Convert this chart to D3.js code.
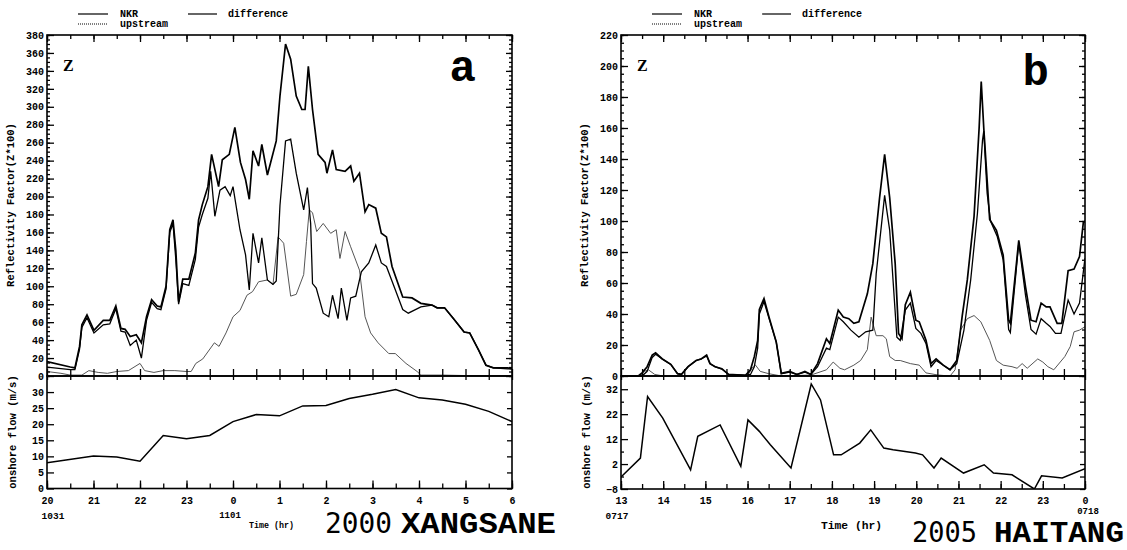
<!DOCTYPE html>
<html>
<head>
<meta charset="utf-8">
<script src="https://cdn.jsdelivr.net/npm/d3@7"></script>
<style>
  body { margin: 0; background: #fff; }
  svg text { font-family: "Liberation Mono", "DejaVu Sans Mono", monospace; font-weight: bold; fill: #000; }
</style>
</head>
<body>
<script>
// ---- data (t = hours since first tick) ----
const hoursA = ["20","21","22","23","0","1","2","3","4","5","6"];
const hoursB = ["13","14","15","16","17","18","19","20","21","22","23","0"];

const zTicksA = [0,20,40,60,80,100,120,140,160,180,200,220,240,260,280,300,320,340,360,380];
const zTicksB = [0,20,40,60,80,100,120,140,160,180,200,220];
const flowTicksA = [0,5,10,15,20,25,30];
const flowTicksB = [-8,2,12,22,32];

const nkrA = [[0,16],[0.5,10],[0.6,9],[0.7,33],[0.75,57],[0.86,68],[1.01,51],[1.21,62],[1.35,62],[1.48,78],[1.59,53],[1.68,52],[1.79,44],[1.92,46],[2.03,37],[2.14,66],[2.25,85],[2.37,78],[2.45,77],[2.56,100],[2.64,163],[2.71,174],[2.77,140],[2.83,83],[2.92,108],[3.05,108],[3.19,137],[3.26,174],[3.34,191],[3.46,211],[3.54,247],[3.69,211],[3.77,241],[3.92,247],[4.04,277],[4.16,238],[4.27,219],[4.35,197],[4.43,251],[4.55,234],[4.62,258],[4.74,224],[4.93,262],[5.01,312],[5.13,370],[5.24,353],[5.36,312],[5.48,297],[5.55,297],[5.62,345],[5.71,297],[5.83,247],[5.98,238],[6.02,226],[6.14,252],[6.22,230],[6.41,228],[6.53,234],[6.6,217],[6.72,226],[6.84,183],[6.92,191],[7.07,187],[7.19,159],[7.3,155],[7.42,122],[7.65,88],[7.85,87],[8.04,81],[8.28,79],[8.39,76],[8.55,76],[8.74,64],[8.97,49],[9.09,48],[9.28,29],[9.44,12],[9.6,9],[9.91,9],[10,8]];
const diffA = [[0,10],[0.5,7],[0.6,7],[0.7,30],[0.75,54],[0.86,65],[1.01,48],[1.21,57],[1.35,58],[1.48,75],[1.59,50],[1.68,49],[1.79,34],[1.92,40],[2.03,20],[2.14,62],[2.25,82],[2.37,75],[2.45,74],[2.56,97],[2.64,160],[2.71,170],[2.77,130],[2.83,80],[2.92,103],[3.05,101],[3.19,130],[3.26,166],[3.34,180],[3.46,198],[3.52,228],[3.61,178],[3.72,207],[3.83,211],[3.94,201],[4.0,211],[4.15,163],[4.27,135],[4.35,96],[4.43,159],[4.55,126],[4.62,154],[4.74,107],[4.86,102],[4.93,106],[5.01,190],[5.13,262],[5.24,264],[5.36,226],[5.52,185],[5.6,210],[5.67,170],[5.71,103],[5.79,98],[5.94,70],[6.06,66],[6.14,90],[6.26,64],[6.33,98],[6.45,62],[6.53,87],[6.64,89],[6.76,116],[6.92,126],[7.07,146],[7.19,126],[7.3,122],[7.49,96],[7.65,74],[7.77,70],[8.04,77],[8.28,79],[8.39,76],[8.55,76],[8.74,64],[8.97,49],[9.09,48],[9.28,29],[9.44,12],[9.6,9],[9.91,8],[10,8]];
const upA = [[0,5],[0.3,3],[0.5,1],[0.75,1],[0.9,6],[1.1,4],[1.3,3],[1.5,5],[1.75,6],[2.0,14],[2.1,6],[2.3,4],[2.5,6],[2.75,6],[3.0,5],[3.1,5],[3.2,14],[3.35,19],[3.6,37],[3.7,33],[3.85,48],[4.0,66],[4.15,73],[4.3,90],[4.42,94],[4.55,105],[4.74,107],[4.86,102],[4.97,155],[5.09,148],[5.24,89],[5.36,91],[5.52,113],[5.58,150],[5.64,185],[5.71,182],[5.8,161],[5.94,170],[6.1,159],[6.22,163],[6.3,131],[6.41,161],[6.53,144],[6.72,118],[6.84,66],[6.96,48],[7.12,37],[7.35,25],[7.49,25],[7.72,14],[7.96,5],[8.04,1],[8.5,1],[9,0.5],[10,0.5]];
const flowA = [[0,8.0],[1,10.1],[1.5,9.8],[2,8.5],[2.5,16.5],[3,15.5],[3.5,16.5],[4,20.8],[4.5,23],[5,22.6],[5.5,25.7],[6,25.8],[6.5,28],[7,29.3],[7.5,30.8],[8,28.2],[8.5,27.5],[9,26.2],[9.5,24],[10,20.8]];

const nkrB = [[0,0],[0.41,0],[0.5,2],[0.62,6],[0.74,13.5],[0.82,15],[0.98,11],[1.18,7.5],[1.34,1.5],[1.43,1],[1.59,6],[1.78,10],[1.9,11],[2.03,13.5],[2.11,8],[2.23,6],[2.39,4.7],[2.55,1],[2.95,0.5],[3.07,4],[3.16,12.5],[3.24,23],[3.28,43],[3.39,50],[3.51,38],[3.68,22],[3.8,1.7],[4.0,3],[4.17,1],[4.36,3],[4.5,1],[4.66,8],[4.87,24],[4.95,21],[5.15,42.5],[5.27,38],[5.4,37],[5.52,34],[5.64,35],[5.84,53],[5.97,72.5],[6.13,115],[6.25,143],[6.37,115],[6.5,72.5],[6.58,27.5],[6.66,24],[6.74,46],[6.86,54],[6.99,36],[7.07,35],[7.23,23],[7.35,8],[7.47,11],[7.64,7],[7.8,4],[7.96,10],[8.09,39],[8.21,62],[8.37,103],[8.49,160],[8.54,190],[8.6,160],[8.74,101],[8.9,94],[9.06,78],[9.19,36],[9.23,34],[9.43,87.5],[9.59,57.5],[9.72,36],[9.84,35],[9.96,47],[10.08,44.6],[10.17,44.6],[10.34,34],[10.45,34],[10.6,68],[10.74,69],[10.87,77],[10.96,99],[11,100]];
const diffB = [[0,0],[0.41,0],[0.5,0],[0.62,3],[0.74,12],[0.82,14],[0.98,11],[1.18,7.5],[1.34,1.5],[1.43,1],[1.59,6],[1.78,10],[1.9,11],[2.03,13],[2.11,8],[2.23,6],[2.39,4.5],[2.55,1],[2.95,0.5],[3.07,1],[3.16,6],[3.24,18],[3.28,40],[3.39,48],[3.51,37],[3.68,22],[3.8,1.5],[4.0,2.5],[4.17,1],[4.36,2.5],[4.5,1],[4.66,6],[4.87,18],[4.95,17],[5.15,38],[5.27,35],[5.45,29.6],[5.64,25],[5.8,28.5],[5.97,29.6],[6.05,66],[6.25,116.5],[6.37,94],[6.54,25],[6.62,23],[6.74,42.5],[6.86,47],[6.99,30.7],[7.11,27.5],[7.23,21],[7.35,6],[7.47,10],[7.8,4],[7.96,8],[8.13,29.6],[8.29,62],[8.45,105],[8.57,152],[8.6,158],[8.68,118],[8.76,100],[8.92,90],[9.06,75],[9.19,30],[9.23,28],[9.43,86],[9.59,52],[9.72,30],[9.84,27],[9.96,37],[10.08,34],[10.17,32],[10.3,27.5],[10.43,27.5],[10.6,49],[10.74,40],[10.87,47],[11,76]];
const upB = [[0,0],[0.45,0],[0.55,3],[0.65,4],[0.8,1],[1.0,0],[3.0,0],[3.1,5],[3.19,7],[3.3,3],[3.5,1.5],[3.8,0],[4.5,0.6],[4.87,4],[5.03,9],[5.19,5],[5.3,4],[5.52,7],[5.68,10],[5.84,17],[5.93,38],[6.05,26],[6.21,26],[6.29,24],[6.37,12.5],[6.5,10],[6.62,10],[6.86,8],[7.07,7],[7.23,2],[7.52,0.6],[7.8,0],[7.92,4],[8.05,29.6],[8.21,37],[8.37,39],[8.53,35],[8.74,23],[8.9,10],[9.06,7],[9.27,6],[9.39,5],[9.51,8],[9.63,5],[9.88,11],[10.0,9],[10.12,6],[10.26,4],[10.52,12.5],[10.65,19],[10.74,28.5],[10.87,29.6],[11,31.8]];
const flowB = [[0,-3.2],[0.46,4.4],[0.63,29.1],[0.99,20.4],[1.65,-0.3],[1.82,13.1],[2.35,17.7],[2.84,1.1],[3.01,19.7],[3.28,15.1],[3.54,9.7],[4.03,0.4],[4.51,34.1],[4.73,27.7],[5.04,5.7],[5.22,5.7],[5.66,10.4],[5.92,15.7],[6.23,8.4],[6.45,7.7],[6.98,6.4],[7.15,5.7],[7.42,0.4],[7.59,4.4],[8.12,-1.6],[8.61,1.7],[8.83,-1.6],[9.27,-2.3],[9.8,-8],[9.97,-2.7],[10.46,-3.6],[11,0.1]];

const legendNames = ["NKR", "difference", "upstream"];

const svg = d3.select("body").append("svg").attr("width", 1127).attr("height", 550);

const zTop = 35, zBot = 376;

function drawPanel(p) {
    const n = p.hours.length - 1;
    const x = d3.scaleLinear().domain([0, n]).range([p.left, p.right]);
    const yZ = d3.scaleLinear().domain([0, p.zMax]).range([zBot, zTop]);
    const yF = d3.scaleLinear().domain(p.flowDomain).range([p.flowBottom, zBot]);
    const halves = d3.range(0, n + 0.01, 0.5);
    const whole = d3.range(0, n + 1);
    const g = svg.append("g");

    const clipId = "clip" + p.id;
    g.append("clipPath").attr("id", clipId).append("rect")
        .attr("x", p.left).attr("y", zTop).attr("width", p.right - p.left).attr("height", p.flowBottom - zTop);

    // curves
    const lineZ = d3.line().x(d => x(d[0])).y(d => yZ(d[1]));
    const lineF = d3.line().x(d => x(d[0])).y(d => yF(d[1]));
    const plot = g.append("g").attr("clip-path", "url(#" + clipId + ")");
    plot.append("path").datum(p.up).attr("d", lineZ).attr("fill", "none")
        .attr("stroke", "#555").attr("stroke-width", 1);
    plot.append("path").datum(p.diff).attr("d", lineZ).attr("fill", "none")
        .attr("stroke", "#000").attr("stroke-width", 1.3);
    plot.append("path").datum(p.nkr).attr("d", lineZ).attr("fill", "none")
        .attr("stroke", "#000").attr("stroke-width", 1.7);
    plot.append("path").datum(p.flow).attr("d", lineF).attr("fill", "none")
        .attr("stroke", "#000").attr("stroke-width", 1.5);

    // axes
    const clean = sel => { sel.select(".domain").remove(); sel.selectAll("line").attr("stroke", "#000").attr("stroke-width", 1.3); };
    const tickFont = sel => sel.selectAll("text").style("font-family", "'Liberation Mono', monospace")
        .style("font-weight", "bold").style("font-size", "10px");

    // left Z
    g.append("g").attr("transform", `translate(${p.left},0)`)
        .call(d3.axisLeft(yZ).tickValues(d3.range(0, p.zMax + 0.1, 5)).tickSize(-3).tickFormat(""))
        .call(clean);
    g.append("g").attr("transform", `translate(${p.left},0)`)
        .call(d3.axisLeft(yZ).tickValues(p.zTicks).tickSize(-7).tickPadding(3).tickFormat(d3.format("d")))
        .call(clean).call(tickFont);
    // right Z
    g.append("g").attr("transform", `translate(${p.right},0)`)
        .call(d3.axisRight(yZ).tickValues(d3.range(0, p.zMax + 0.1, 5)).tickSize(-3).tickFormat(""))
        .call(clean);
    g.append("g").attr("transform", `translate(${p.right},0)`)
        .call(d3.axisRight(yZ).tickValues(p.zTicks).tickSize(-6).tickFormat(""))
        .call(clean);
    // left / right flow
    g.append("g").attr("transform", `translate(${p.left},0)`)
        .call(d3.axisLeft(yF).tickValues(p.flowMinor).tickSize(-3).tickFormat(""))
        .call(clean);
    g.append("g").attr("transform", `translate(${p.left},0)`)
        .call(d3.axisLeft(yF).tickValues(p.flowTicks).tickSize(-7).tickPadding(3).tickFormat(d3.format("d")))
        .call(clean).call(tickFont);
    g.append("g").attr("transform", `translate(${p.right},0)`)
        .call(d3.axisRight(yF).tickValues(p.flowTicks.concat(p.flowMinor)).tickSize(-5).tickFormat(""))
        .call(clean);

    // top axis
    g.append("g").attr("transform", `translate(0,${zTop})`)
        .call(d3.axisTop(x).tickValues(halves).tickSize(-4).tickFormat(""))
        .call(clean);
    g.append("g").attr("transform", `translate(0,${zTop})`)
        .call(d3.axisTop(x).tickValues(whole).tickSize(-7).tickFormat(""))
        .call(clean);
    // panel divider
    g.append("g").attr("transform", `translate(0,${zBot})`)
        .call(d3.axisBottom(x).tickValues(halves).tickSize(-7).tickFormat(""))
        .call(clean);
    g.append("g").attr("transform", `translate(0,${zBot})`)
        .call(d3.axisTop(x).tickValues(halves).tickSize(-4).tickFormat(""))
        .call(clean);
    // bottom axis
    g.append("g").attr("transform", `translate(0,${p.flowBottom})`)
        .call(d3.axisBottom(x).tickValues(halves).tickSize(-5).tickFormat(""))
        .call(clean);
    g.append("g").attr("transform", `translate(0,${p.flowBottom})`)
        .call(d3.axisBottom(x).tickValues(whole).tickSize(-8).tickPadding(8).tickFormat(i => p.hours[i]))
        .call(clean).call(tickFont);

    // frames
    g.append("rect").attr("x", p.left).attr("y", zTop).attr("width", p.right - p.left).attr("height", zBot - zTop)
        .attr("fill", "none").attr("stroke", "#000").attr("stroke-width", 1.6);
    g.append("rect").attr("x", p.left).attr("y", zBot).attr("width", p.right - p.left).attr("height", p.flowBottom - zBot)
        .attr("fill", "none").attr("stroke", "#000").attr("stroke-width", 1.6);

    // legend
    const lx = p.left + 31;
    const leg = g.append("g");
    leg.append("line").attr("x1", lx).attr("x2", lx + 30).attr("y1", 14).attr("y2", 14)
        .attr("stroke", "#000").attr("stroke-width", 1.2);
    leg.append("line").attr("x1", lx + 110).attr("x2", lx + 139).attr("y1", 14).attr("y2", 14)
        .attr("stroke", "#000").attr("stroke-width", 1.2);
    leg.append("line").attr("x1", lx).attr("x2", lx + 30).attr("y1", 24).attr("y2", 24)
        .attr("stroke", "#000").attr("stroke-width", 1).attr("stroke-dasharray", "1,1");
    leg.append("text").attr("x", lx + 42).attr("y", 17).style("font-size", "10px").text(legendNames[0]);
    leg.append("text").attr("x", lx + 150).attr("y", 17).style("font-size", "10px").text(legendNames[1]);
    leg.append("text").attr("x", lx + 42).attr("y", 27).style("font-size", "10px").text(legendNames[2]);

    // in-panel labels
    g.append("text").attr("x", p.left + 16).attr("y", 71)
        .style("font-family", "'Liberation Serif', serif").style("font-size", "16px").text("Z");
    g.append("text").attr("x", p.right - 36).attr("y", p.letterY).attr("text-anchor", "end")
        .style("font-size", "44px").text(p.letter);

    // y titles
    g.append("text").attr("transform", `translate(${p.left - 33},205) rotate(-90)`).attr("text-anchor", "middle")
        .style("font-size", "10.5px").text("Reflectivity Factor(Z*100)");
    g.append("text").attr("transform", `translate(${p.left - 31},432) rotate(-90)`).attr("text-anchor", "middle")
        .style("font-size", "10.5px").text("onshore flow (m/s)");

    // dates, time, storm name
    g.append("text").attr("x", p.left + p.date1dx).attr("y", 519).attr("text-anchor", "middle")
        .style("font-size", "9.5px").text(p.date1);
    g.append("text").attr("x", p.date2x).attr("y", p.date2y).attr("text-anchor", "middle")
        .style("font-size", "9px").text(p.date2);
    g.append("text").attr("x", p.timeX).attr("y", p.timeY)
        .attr("textLength", p.timeW).attr("lengthAdjust", "spacingAndGlyphs")
        .style("font-size", p.timeSize + "px").text("Time (hr)");
    g.append("text").attr("x", p.yearX).attr("y", p.nameY)
        .attr("textLength", p.yearW).attr("lengthAdjust", "spacingAndGlyphs")
        .style("font-family", "'DejaVu Sans Mono', monospace").style("font-weight", "normal")
        .style("font-size", "28px").text(p.year);
    g.append("text").attr("x", p.nameX).attr("y", p.nameY)
        .attr("textLength", p.nameW).attr("lengthAdjust", "spacingAndGlyphs")
        .style("font-size", "30px").text(p.name);
}

drawPanel({
    id: "a", hours: hoursA, left: 47, right: 512, zMax: 380, zTicks: zTicksA,
    flowDomain: [0, 35], flowBottom: 488.5, flowTicks: flowTicksA, flowMinor: [],
    nkr: nkrA, diff: diffA, up: upA, flow: flowA,
    letter: "a", letterY: 81,
    date1: "1031", date1dx: 6, date2: "1101", date2x: 230, date2y: 518,
    timeX: 249, timeY: 528, timeW: 45, timeSize: 9,
    year: "2000", yearX: 325, yearW: 67, name: "XANGSANE", nameX: 401, nameW: 155, nameY: 533
});
drawPanel({
    id: "b", hours: hoursB, left: 621, right: 1085, zMax: 220, zTicks: zTicksB,
    flowDomain: [-8, 37.3], flowBottom: 489, flowTicks: flowTicksB, flowMinor: [-3, 7, 17, 27],
    nkr: nkrB, diff: diffB, up: upB, flow: flowB,
    letter: "b", letterY: 85,
    date1: "0717", date1dx: -4, date2: "0718", date2x: 1088, date2y: 514,
    timeX: 821, timeY: 529, timeW: 61, timeSize: 11,
    year: "2005", yearX: 912, yearW: 65, name: "HAITANG", nameX: 994, nameW: 130, nameY: 542
});
</script>
</body>
</html>
